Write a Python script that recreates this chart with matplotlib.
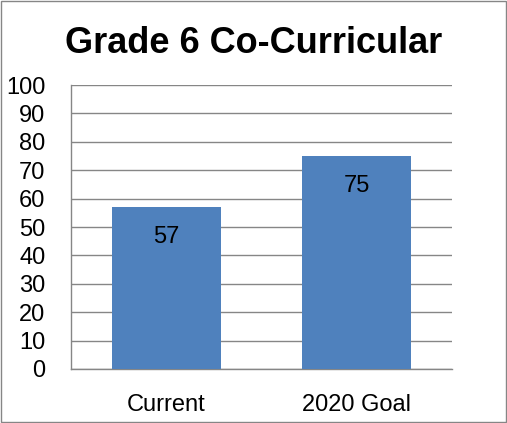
import matplotlib
matplotlib.use("Agg")
import matplotlib.pyplot as plt
from matplotlib.patches import Rectangle

categories = ["Current", "2020 Goal"]
values = [57, 75]
yticks = list(range(0, 101, 10))

plt.rcParams['font.family'] = ['Liberation Sans', 'DejaVu Sans']

fig = plt.figure(figsize=(5.07, 4.23), dpi=100)
ax = fig.add_axes([0.140, 0.1277, 0.7515, 0.6713])

x = list(range(len(categories)))
ax.bar(x, values, width=0.57, color='#4F81BD', zorder=3)
for xi, v in zip(x, values):
    ax.text(xi, v - 10.5, str(v), ha='center', va='center', fontsize=17, zorder=4)

ax.set_xlim(-0.5, len(categories) - 0.5)
ax.set_ylim(0, 100)
ax.set_yticks(yticks)
ax.set_yticklabels([str(t) for t in yticks], fontsize=17)
ax.set_xticks(x)
ax.set_xticklabels(categories, fontsize=17)
ax.tick_params(axis='both', length=0)
ax.tick_params(axis='y', pad=18.5)
ax.tick_params(axis='x', pad=18)
ax.grid(axis='y', color='#868686', linewidth=1, zorder=0)
for s in ['top', 'right']:
    ax.spines[s].set_visible(False)
for s in ['left', 'bottom']:
    ax.spines[s].set_color('#868686')
    ax.spines[s].set_linewidth(1)

fig.text(0.5, 1 - 53 / 423, "Grade 6 Co-Curricular", ha='center', va='baseline',
         fontsize=26, fontweight='bold')

fig.patches.append(Rectangle((0.002, 0.002), 0.996, 0.996, transform=fig.transFigure,
                             fill=False, edgecolor='#868686', linewidth=1))

fig.savefig("out.png", dpi=100)
